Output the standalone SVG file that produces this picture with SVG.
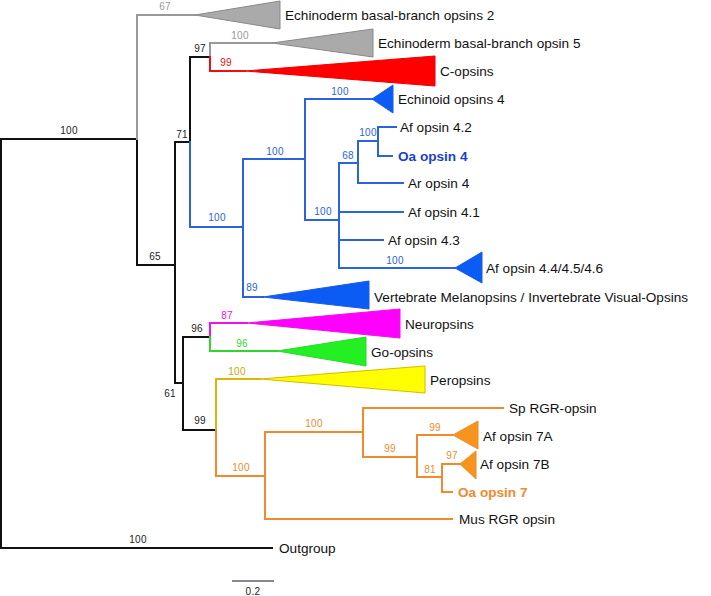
<svg xmlns="http://www.w3.org/2000/svg" width="711" height="596" viewBox="0 0 711 596">
<style>
text{font-family:"Liberation Sans",Arial,sans-serif}
.t{font-size:13.6px;fill:#111}
.b{font-size:10px;text-anchor:middle;letter-spacing:0.3px}
.ln{fill:none;stroke-width:2;stroke-linecap:square}
.k{stroke:#111}.kt{fill:#222}
.g{stroke:#999}.gt{fill:#999}
.r{stroke:#f01010}.rt{fill:#e81010}
.u{stroke:#2a62e0}.ut{fill:#2a62e0}
.m{stroke:#ee10ee}.mt{fill:#ee10ee}
.n{stroke:#2ed62e}.nt{fill:#2ed62e}
.y{stroke:#d8b800}.yt{fill:#c8a800}
.o{stroke:#f08a2c}.ot{fill:#f08a2c}
</style>
<rect width="711" height="596" fill="#fff"/>
<g id="connectors">
<path class="ln k" d="M1,139 H137 M1,139 V548 H272 M137,139 V265 H175 M175,142 V383 H183 M175,142 H190 M190,57 V142 M190,57 H210 M183,337 V430 M183,337 H210 M183,430 H216"/>
<path class="ln g" d="M137,139 V15 H195 M210,57 V43 H272"/>
<path class="ln r" d="M210,57 V71 H245"/>
<path class="ln u" d="M190,142 V227 H243 M243,159 V297 H263 M243,159 H305 M305,99 V220 M305,99 H372 M305,220 H339 M339,163 V268 M339,163 H358 M339,212 H403 M339,240 H383 M339,268 H455 M358,141 V183 H403 M358,141 H378 M378,127 V156 M378,127 H396 M378,156 H392"/>
<path class="ln m" d="M210,337 V323 H247"/>
<path class="ln n" d="M210,337 V351 H277"/>
<path class="ln y" d="M216,430 V379 H260"/>
<path class="ln o" d="M216,430 V476 H265 M265,432 V519 H452 M265,432 H363 M363,408 V457 M363,408 H503 M363,457 H417 M417,435 V477 M417,435 H453 M417,477 H442 M442,464 V492 H452 M442,464 H460"/>
</g>
<g id="clade-echinoderm-2"><polygon points="195,15 280,1 280,29" fill="#aaa" stroke="#888" stroke-width="1"/><text class="t" x="285" y="20">Echinoderm basal-branch opsins 2</text></g>
<g id="clade-echinoderm-5"><polygon points="272,43 373,29 373,57" fill="#aaa" stroke="#888" stroke-width="1"/><text class="t" x="378" y="48">Echinoderm basal-branch opsin 5</text></g>
<g id="clade-copsins"><polygon points="245,71 435,56 435,86" fill="#ff0000" stroke="#ee0000" stroke-width="1"/><text class="t" x="440" y="76">C-opsins</text></g>
<g id="clade-echinoid4"><polygon points="372,99 393,85 393,113" fill="#0a5cf5" stroke="#1a5ae8" stroke-width="1"/><text class="t" x="398" y="104">Echinoid opsins 4</text></g>
<g id="leaf-af42"><text class="t" x="400" y="132">Af opsin 4.2</text></g>
<g id="leaf-oa4"><text class="t" x="398" y="161" font-weight="bold" style="fill:#1a3fd0">Oa opsin 4</text></g>
<g id="leaf-ar4"><text class="t" x="408" y="188">Ar opsin 4</text></g>
<g id="leaf-af41"><text class="t" x="408" y="217">Af opsin 4.1</text></g>
<g id="leaf-af43"><text class="t" x="388" y="245">Af opsin 4.3</text></g>
<g id="clade-af444546"><polygon points="455,268 482,252 482,283" fill="#0a5cf5" stroke="#1a5ae8" stroke-width="1"/><text class="t" x="486" y="273">Af opsin 4.4/4.5/4.6</text></g>
<g id="clade-vertebrate"><polygon points="263,297 369,281 369,309" fill="#0a5cf5" stroke="#1a5ae8" stroke-width="1"/><text class="t" x="374" y="302">Vertebrate Melanopsins / Invertebrate Visual-Opsins</text></g>
<g id="clade-neuropsins"><polygon points="247,323 400,309 400,338" fill="#ff00ff" stroke="#ee10ee" stroke-width="1"/><text class="t" x="405" y="329">Neuropsins</text></g>
<g id="clade-goopsins"><polygon points="277,351 366,337 366,366" fill="#22f022" stroke="#2ed62e" stroke-width="1"/><text class="t" x="371" y="357">Go-opsins</text></g>
<g id="clade-peropsins"><polygon points="260,379 425,366 425,393" fill="#ffff00" stroke="#d8b800" stroke-width="1"/><text class="t" x="430" y="385">Peropsins</text></g>
<g id="leaf-sprgr"><text class="t" x="509" y="413">Sp RGR-opsin</text></g>
<g id="clade-af7a"><polygon points="453,435 478,421 478,449" fill="#f7941d" stroke="#f08a2c" stroke-width="1"/><text class="t" x="483" y="441">Af opsin 7A</text></g>
<g id="clade-af7b"><polygon points="460,464 476,451 476,479" fill="#f7941d" stroke="#f08a2c" stroke-width="1"/><text class="t" x="480" y="469">Af opsin 7B</text></g>
<g id="leaf-oa7"><text class="t" x="458" y="497" font-weight="bold" style="fill:#f08a2c">Oa opsin 7</text></g>
<g id="leaf-musrgr"><text class="t" x="459" y="524">Mus RGR opsin</text></g>
<g id="leaf-outgroup"><text class="t" x="279" y="553">Outgroup</text></g>
<g id="bootstrap">
<text class="b kt" x="69" y="134">100</text>
<text class="b gt" x="165" y="10">67</text>
<text class="b kt" x="200" y="52">97</text>
<text class="b gt" x="240" y="39">100</text>
<text class="b rt" x="226" y="66">99</text>
<text class="b kt" x="182" y="138">71</text>
<text class="b kt" x="155" y="260">65</text>
<text class="b ut" x="340" y="95">100</text>
<text class="b ut" x="275" y="155">100</text>
<text class="b ut" x="217" y="221">100</text>
<text class="b ut" x="368" y="136">100</text>
<text class="b ut" x="348" y="159">68</text>
<text class="b ut" x="323" y="215">100</text>
<text class="b ut" x="395" y="264">100</text>
<text class="b ut" x="252" y="291">89</text>
<text class="b mt" x="227" y="319">87</text>
<text class="b kt" x="197" y="332">96</text>
<text class="b nt" x="242" y="347">96</text>
<text class="b yt" x="237" y="375">100</text>
<text class="b kt" x="170" y="397">61</text>
<text class="b kt" x="200" y="424">99</text>
<text class="b ot" x="241" y="471">100</text>
<text class="b ot" x="314" y="427">100</text>
<text class="b ot" x="390" y="452">99</text>
<text class="b ot" x="435" y="431">99</text>
<text class="b ot" x="452" y="459">97</text>
<text class="b ot" x="430" y="473">81</text>
<text class="b kt" x="138" y="543">100</text>
</g>
<g id="scale">
<line x1="232" y1="581" x2="274" y2="581" stroke="#111" stroke-width="1"/>
<text class="b kt" x="253" y="595">0.2</text>
</g>
</svg>
